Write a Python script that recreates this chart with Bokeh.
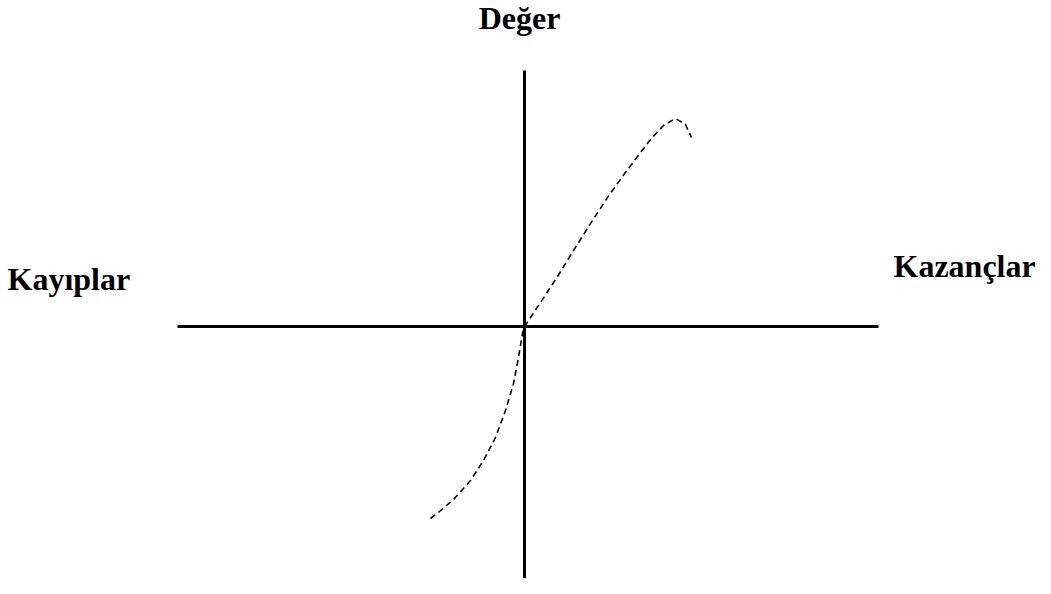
from bokeh.plotting import figure
from bokeh.models import Range1d
from bokeh.core.properties import value
from bokeh.embed import file_html
from bokeh.resources import INLINE

# Value function (prospect theory) sketch, origin at (0, 0)
gain_x = [0, 16, 33, 49, 66, 83, 98, 113, 126, 139, 151, 161, 167]
gain_y = [0, 24, 50, 76, 103, 129, 150, 170, 187, 201, 208, 202, 189]
loss_x = [0, -2, -6, -11, -19, -29, -41, -54, -71, -85, -94]
loss_y = [0, -7, -31, -57, -84, -111, -134, -154, -173, -185, -192]

# axis extents
h_axis_x = [-347, 354]
h_axis_y = [0, 0]
v_axis_x = [0, 0]
v_axis_y = [-266, 256]

labels = ["Değer", "Kayıplar", "Kazançlar"]
label_x = [-5, -517, 369]
label_y = [309, 48, 61]
label_align = ["center", "left", "left"]

curve_x = loss_x[::-1] + gain_x[1:]
curve_y = loss_y[::-1] + gain_y[1:]

p = figure(width=1035, height=578, output_backend="svg", toolbar_location=None,
           x_range=Range1d(-524, 511), y_range=Range1d(-252, 326),
           min_border=0, outline_line_color=None)
p.axis.visible = False
p.grid.visible = False
p.background_fill_color = "white"
p.border_fill_color = "white"

p.line(h_axis_x, h_axis_y, line_color="black", line_width=3)
p.line(v_axis_x, v_axis_y, line_color="black", line_width=3)
p.line(curve_x, curve_y, line_color="black", line_width=1.6, line_dash="6 4")

for t, x, y, a in zip(labels, label_x, label_y, label_align):
    p.text(x=[x], y=[y], text=[t], text_font=value("Liberation Serif"),
           text_font_style="bold", text_font_size="32px", text_color="black",
           text_align=a, text_baseline="alphabetic")

open("out.html", "w").write(file_html(p, INLINE))
